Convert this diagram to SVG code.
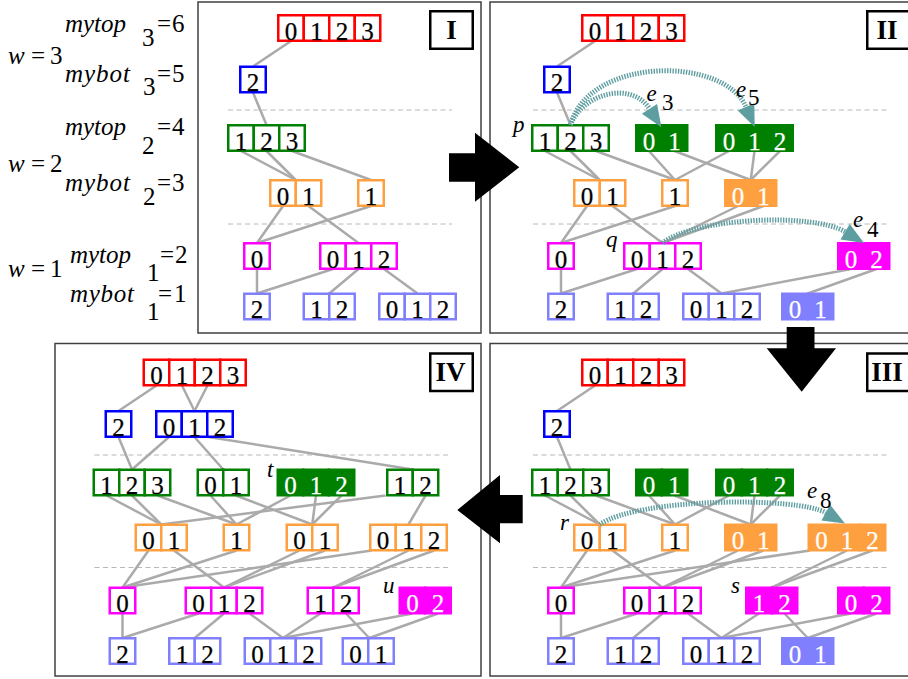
<svg xmlns="http://www.w3.org/2000/svg" width="908" height="679" viewBox="0 0 908 679">
<style>
text{font-family:"Liberation Serif","Times New Roman",serif}
.frame{fill:none;stroke:#404040;stroke-width:1.5}
.sep{stroke:#b8b8b8;stroke-width:1;stroke-dasharray:5 3.5}
.edges line{stroke:#aaaaaa;stroke-width:2.5}
.n rect{stroke-width:2.5;fill:#fff}
.n text{font-size:25px;text-anchor:middle;fill:#000;stroke:#000;stroke-width:0.25}
.red rect{stroke:#ff0000}
.blue rect{stroke:#0000ff}
.green rect{stroke:#008000}
.orange rect{stroke:#ffa040}
.mag rect{stroke:#ff00ff}
.lb rect{stroke:#8080ff}
.green.f rect{fill:#008000}
.orange.f rect{fill:#ffa040}
.mag.f rect{fill:#ff00ff}
.lb.f rect{fill:#8080ff}
.n.f text{fill:#fff;stroke:#fff}
.lab text{font-size:23px;fill:#000}
.lv text{font-size:25px;fill:#000}
.it{font-style:italic}
.pl rect{fill:#fff;stroke:#000;stroke-width:2.5}
.pl text{font-weight:bold;font-size:27px;text-anchor:middle}
.arc{fill:none;stroke:#5f9ea0;stroke-width:5;stroke-dasharray:1.4 1.3;marker-end:url(#ah)}
.big{fill:#000}
</style>
<defs>
<marker id="ah" markerUnits="userSpaceOnUse" viewBox="0 -9 22 18" refX="0" refY="0" markerWidth="22" markerHeight="18" orient="auto" overflow="visible"><path d="M0,-9 L22,0 L0,9 Z" fill="#5f9ea0"/></marker>
</defs>
<rect width="908" height="679" fill="#fff"/>

<!-- left labels -->
<g id="levels" class="lv">
<text class="it" x="65" y="32" textLength="61">mytop</text><text x="142" y="46">3</text><text x="157" y="32">=</text><text x="172" y="32">6</text>
<text class="it" x="8" y="64">w</text><text x="31" y="64">=</text><text x="50" y="64">3</text>
<text class="it" x="65" y="82" textLength="65">mybot</text><text x="143" y="95">3</text><text x="157" y="82">=</text><text x="172" y="82">5</text>
<text class="it" x="65" y="135" textLength="61">mytop</text><text x="142" y="154">2</text><text x="157" y="135">=</text><text x="172" y="135">4</text>
<text class="it" x="8" y="172">w</text><text x="31" y="172">=</text><text x="50" y="172">2</text>
<text class="it" x="65" y="191" textLength="65">mybot</text><text x="143" y="205">2</text><text x="157" y="191">=</text><text x="172" y="191">3</text>
<text class="it" x="70" y="263" textLength="61">mytop</text><text x="147" y="281">1</text><text x="160" y="263">=</text><text x="175" y="263">2</text>
<text class="it" x="8" y="277">w</text><text x="31" y="277">=</text><text x="50" y="277">1</text>
<text class="it" x="70" y="302" textLength="64">mybot</text><text x="147" y="320">1</text><text x="158" y="302">=</text><text x="174" y="302">1</text>
</g>

<!-- frames -->
<rect class="frame" x="198" y="2" width="283" height="331"/>
<rect class="frame" x="490" y="2" width="430" height="331"/>
<rect class="frame" x="490" y="343.5" width="430" height="332.5"/>
<rect class="frame" x="55" y="343.5" width="426" height="332.5"/>

<!-- PANEL I -->
<g id="panel-I">
<line class="sep" x1="228" y1="110" x2="452" y2="110"/><line class="sep" x1="228" y1="224" x2="452" y2="224"/>
<g id="I-edges" class="edges">
<line x1="291" y1="41" x2="253" y2="66.5"/><line x1="253" y1="92.5" x2="266.5" y2="125"/>
<line x1="241" y1="151" x2="295.75" y2="180"/><line x1="266.5" y1="151" x2="295.75" y2="180"/><line x1="292" y1="151" x2="371" y2="180"/>
<line x1="283" y1="206" x2="257" y2="243"/><line x1="308.5" y1="206" x2="358.5" y2="243"/><line x1="371" y1="206" x2="257" y2="243"/>
<line x1="257" y1="269" x2="257" y2="293.5"/><line x1="333" y1="269" x2="257" y2="293.5"/><line x1="358.5" y1="269" x2="329.25" y2="293.5"/><line x1="384" y1="269" x2="417.5" y2="293.5"/>
</g>
<g id="I-red" class="n red" transform="translate(277,14)"><rect x="1.25" y="1.25" width="25.5" height="25.5"/><rect x="26.75" y="1.25" width="25.5" height="25.5"/><rect x="52.25" y="1.25" width="25.5" height="25.5"/><rect x="77.75" y="1.25" width="25.5" height="25.5"/><text x="14" y="25.5">0</text><text x="39.5" y="25.5">1</text><text x="65" y="25.5">2</text><text x="90.5" y="25.5">3</text></g>
<g id="I-blue2" class="n blue" transform="translate(239,65.5)"><rect x="1.25" y="1.25" width="25.5" height="25.5"/><text x="14" y="25.5">2</text></g>
<g id="I-g123" class="n green" transform="translate(227,124)"><rect x="1.25" y="1.25" width="25.5" height="25.5"/><rect x="26.75" y="1.25" width="25.5" height="25.5"/><rect x="52.25" y="1.25" width="25.5" height="25.5"/><text x="14" y="25.5">1</text><text x="39.5" y="25.5">2</text><text x="65" y="25.5">3</text></g>
<g id="I-o01" class="n orange" transform="translate(269,179)"><rect x="1.25" y="1.25" width="25.5" height="25.5"/><rect x="26.75" y="1.25" width="25.5" height="25.5"/><text x="14" y="25.5">0</text><text x="39.5" y="25.5">1</text></g>
<g id="I-o1" class="n orange" transform="translate(357,179)"><rect x="1.25" y="1.25" width="25.5" height="25.5"/><text x="14" y="25.5">1</text></g>
<g id="I-m0" class="n mag" transform="translate(243,242)"><rect x="1.25" y="1.25" width="25.5" height="25.5"/><text x="14" y="25.5">0</text></g>
<g id="I-m012" class="n mag" transform="translate(319,242)"><rect x="1.25" y="1.25" width="25.5" height="25.5"/><rect x="26.75" y="1.25" width="25.5" height="25.5"/><rect x="52.25" y="1.25" width="25.5" height="25.5"/><text x="14" y="25.5">0</text><text x="39.5" y="25.5">1</text><text x="65" y="25.5">2</text></g>
<g id="I-lb2" class="n lb" transform="translate(243,292.5)"><rect x="1.25" y="1.25" width="25.5" height="25.5"/><text x="14" y="25.5">2</text></g>
<g id="I-lb12" class="n lb" transform="translate(302.5,292.5)"><rect x="1.25" y="1.25" width="25.5" height="25.5"/><rect x="26.75" y="1.25" width="25.5" height="25.5"/><text x="14" y="25.5">1</text><text x="39.5" y="25.5">2</text></g>
<g id="I-lb012" class="n lb" transform="translate(378,292.5)"><rect x="1.25" y="1.25" width="25.5" height="25.5"/><rect x="26.75" y="1.25" width="25.5" height="25.5"/><rect x="52.25" y="1.25" width="25.5" height="25.5"/><text x="14" y="25.5">0</text><text x="39.5" y="25.5">1</text><text x="65" y="25.5">2</text></g>
</g>

<!-- PANEL II -->
<g id="panel-II" transform="translate(304,0)">
<line class="sep" x1="229" y1="110" x2="585" y2="110"/><line class="sep" x1="229" y1="224" x2="585" y2="224"/>
<g id="II-edges" class="edges">
<line x1="291" y1="41" x2="253" y2="66.5"/><line x1="253" y1="92.5" x2="266.5" y2="125"/>
<line x1="241" y1="151" x2="295.75" y2="180"/><line x1="266.5" y1="151" x2="295.75" y2="180"/><line x1="292" y1="151" x2="371" y2="180"/>
<line x1="345" y1="151" x2="371" y2="180"/><line x1="370.5" y1="151" x2="446.75" y2="180"/><line x1="425" y1="151" x2="371" y2="180"/><line x1="450.5" y1="151" x2="446.75" y2="180"/><line x1="476" y1="151" x2="446.75" y2="180"/>
<line x1="283" y1="206" x2="257" y2="243"/><line x1="308.5" y1="206" x2="358.5" y2="243"/><line x1="371" y1="206" x2="257" y2="243"/>
<line x1="434" y1="206" x2="358.5" y2="243"/><line x1="459.5" y1="206" x2="358.5" y2="243"/>
<line x1="257" y1="269" x2="257" y2="293.5"/><line x1="333" y1="269" x2="257" y2="293.5"/><line x1="358.5" y1="269" x2="329.25" y2="293.5"/><line x1="384" y1="269" x2="417.5" y2="293.5"/>
<line x1="547" y1="269" x2="417.5" y2="293.5"/><line x1="572.5" y1="269" x2="503.75" y2="293.5"/>
</g>
<g id="II-red" class="n red" transform="translate(277,14)"><rect x="1.25" y="1.25" width="25.5" height="25.5"/><rect x="26.75" y="1.25" width="25.5" height="25.5"/><rect x="52.25" y="1.25" width="25.5" height="25.5"/><rect x="77.75" y="1.25" width="25.5" height="25.5"/><text x="14" y="25.5">0</text><text x="39.5" y="25.5">1</text><text x="65" y="25.5">2</text><text x="90.5" y="25.5">3</text></g>
<g id="II-blue2" class="n blue" transform="translate(239,65.5)"><rect x="1.25" y="1.25" width="25.5" height="25.5"/><text x="14" y="25.5">2</text></g>
<g id="II-g123" class="n green" transform="translate(227,124)"><rect x="1.25" y="1.25" width="25.5" height="25.5"/><rect x="26.75" y="1.25" width="25.5" height="25.5"/><rect x="52.25" y="1.25" width="25.5" height="25.5"/><text x="14" y="25.5">1</text><text x="39.5" y="25.5">2</text><text x="65" y="25.5">3</text></g>
<g id="II-g01" class="n green f" transform="translate(331,124)"><rect x="1.25" y="1.25" width="25.5" height="25.5"/><rect x="26.75" y="1.25" width="25.5" height="25.5"/><text x="14" y="25.5">0</text><text x="39.5" y="25.5">1</text></g>
<g id="II-g012" class="n green f" transform="translate(411,124)"><rect x="1.25" y="1.25" width="25.5" height="25.5"/><rect x="26.75" y="1.25" width="25.5" height="25.5"/><rect x="52.25" y="1.25" width="25.5" height="25.5"/><text x="14" y="25.5">0</text><text x="39.5" y="25.5">1</text><text x="65" y="25.5">2</text></g>
<g id="II-o01" class="n orange" transform="translate(269,179)"><rect x="1.25" y="1.25" width="25.5" height="25.5"/><rect x="26.75" y="1.25" width="25.5" height="25.5"/><text x="14" y="25.5">0</text><text x="39.5" y="25.5">1</text></g>
<g id="II-o1" class="n orange" transform="translate(357,179)"><rect x="1.25" y="1.25" width="25.5" height="25.5"/><text x="14" y="25.5">1</text></g>
<g id="II-o01b" class="n orange f" transform="translate(420,179)"><rect x="1.25" y="1.25" width="25.5" height="25.5"/><rect x="26.75" y="1.25" width="25.5" height="25.5"/><text x="14" y="25.5">0</text><text x="39.5" y="25.5">1</text></g>
<g id="II-m0" class="n mag" transform="translate(243,242)"><rect x="1.25" y="1.25" width="25.5" height="25.5"/><text x="14" y="25.5">0</text></g>
<g id="II-m012" class="n mag" transform="translate(319,242)"><rect x="1.25" y="1.25" width="25.5" height="25.5"/><rect x="26.75" y="1.25" width="25.5" height="25.5"/><rect x="52.25" y="1.25" width="25.5" height="25.5"/><text x="14" y="25.5">0</text><text x="39.5" y="25.5">1</text><text x="65" y="25.5">2</text></g>
<g id="II-m02" class="n mag f" transform="translate(533,242)"><rect x="1.25" y="1.25" width="25.5" height="25.5"/><rect x="26.75" y="1.25" width="25.5" height="25.5"/><text x="14" y="25.5">0</text><text x="39.5" y="25.5">2</text></g>
<g id="II-lb2" class="n lb" transform="translate(243,292.5)"><rect x="1.25" y="1.25" width="25.5" height="25.5"/><text x="14" y="25.5">2</text></g>
<g id="II-lb12" class="n lb" transform="translate(302.5,292.5)"><rect x="1.25" y="1.25" width="25.5" height="25.5"/><rect x="26.75" y="1.25" width="25.5" height="25.5"/><text x="14" y="25.5">1</text><text x="39.5" y="25.5">2</text></g>
<g id="II-lb012" class="n lb" transform="translate(378,292.5)"><rect x="1.25" y="1.25" width="25.5" height="25.5"/><rect x="26.75" y="1.25" width="25.5" height="25.5"/><rect x="52.25" y="1.25" width="25.5" height="25.5"/><text x="14" y="25.5">0</text><text x="39.5" y="25.5">1</text><text x="65" y="25.5">2</text></g>
<g id="II-lb01" class="n lb f" transform="translate(477,292.5)"><rect x="1.25" y="1.25" width="25.5" height="25.5"/><rect x="26.75" y="1.25" width="25.5" height="25.5"/><text x="14" y="25.5">0</text><text x="39.5" y="25.5">1</text></g>
<g id="II-arcs">
<path class="arc" d="M266.5,125 C278,94 327,80 345.5,108.8"/>
<path class="arc" d="M266.5,125 C285,56 420,56 442,106.9"/>
<path class="arc" d="M358.5,243 C390,218 508,212 541.1,231.8"/>
</g>
<g class="lab">
<text class="it" x="209" y="131.5">p</text>
<text class="it" x="302" y="247">q</text>
<text class="it" x="342.5" y="101">e</text><text x="358" y="110">3</text>
<text class="it" x="432" y="97">e</text><text x="444" y="105">5</text>
<text class="it" x="549" y="227">e</text><text x="563" y="237">4</text>
</g>
</g>

<!-- PANEL III -->
<g id="panel-III" transform="translate(304,344.5)">
<line class="sep" x1="229" y1="110.5" x2="585" y2="110.5"/><line class="sep" x1="229" y1="223" x2="585" y2="223"/>
<g id="III-edges" class="edges">
<line x1="291" y1="41" x2="253" y2="66.5"/><line x1="253" y1="92.5" x2="266.5" y2="125"/>
<line x1="241" y1="151" x2="295.75" y2="180"/><line x1="266.5" y1="151" x2="295.75" y2="180"/><line x1="292" y1="151" x2="371" y2="180"/>
<line x1="345" y1="151" x2="371" y2="180"/><line x1="370.5" y1="151" x2="446.75" y2="180"/><line x1="425" y1="151" x2="371" y2="180"/><line x1="450.5" y1="151" x2="446.75" y2="180"/><line x1="476" y1="151" x2="446.75" y2="180"/>
<line x1="283" y1="206" x2="257" y2="243"/><line x1="308.5" y1="206" x2="358.5" y2="243"/><line x1="371" y1="206" x2="257" y2="243"/>
<line x1="434" y1="206" x2="358.5" y2="243"/><line x1="459.5" y1="206" x2="358.5" y2="243"/>
<line x1="506" y1="206" x2="257" y2="243"/><line x1="543" y1="206" x2="467.75" y2="243"/><line x1="568.5" y1="206" x2="467.75" y2="243"/>
<line x1="257" y1="269" x2="257" y2="293.5"/><line x1="333" y1="269" x2="257" y2="293.5"/><line x1="358.5" y1="269" x2="329.25" y2="293.5"/><line x1="384" y1="269" x2="417.5" y2="293.5"/>
<line x1="455" y1="269" x2="417.5" y2="293.5"/><line x1="480.5" y1="269" x2="503.75" y2="293.5"/>
<line x1="547" y1="269" x2="417.5" y2="293.5"/><line x1="572.5" y1="269" x2="503.75" y2="293.5"/>
</g>
<g id="III-red" class="n red" transform="translate(277,14)"><rect x="1.25" y="1.25" width="25.5" height="25.5"/><rect x="26.75" y="1.25" width="25.5" height="25.5"/><rect x="52.25" y="1.25" width="25.5" height="25.5"/><rect x="77.75" y="1.25" width="25.5" height="25.5"/><text x="14" y="25.5">0</text><text x="39.5" y="25.5">1</text><text x="65" y="25.5">2</text><text x="90.5" y="25.5">3</text></g>
<g id="III-blue2" class="n blue" transform="translate(239,65.5)"><rect x="1.25" y="1.25" width="25.5" height="25.5"/><text x="14" y="25.5">2</text></g>
<g id="III-g123" class="n green" transform="translate(227,124)"><rect x="1.25" y="1.25" width="25.5" height="25.5"/><rect x="26.75" y="1.25" width="25.5" height="25.5"/><rect x="52.25" y="1.25" width="25.5" height="25.5"/><text x="14" y="25.5">1</text><text x="39.5" y="25.5">2</text><text x="65" y="25.5">3</text></g>
<g id="III-g01" class="n green f" transform="translate(331,124)"><rect x="1.25" y="1.25" width="25.5" height="25.5"/><rect x="26.75" y="1.25" width="25.5" height="25.5"/><text x="14" y="25.5">0</text><text x="39.5" y="25.5">1</text></g>
<g id="III-g012" class="n green f" transform="translate(411,124)"><rect x="1.25" y="1.25" width="25.5" height="25.5"/><rect x="26.75" y="1.25" width="25.5" height="25.5"/><rect x="52.25" y="1.25" width="25.5" height="25.5"/><text x="14" y="25.5">0</text><text x="39.5" y="25.5">1</text><text x="65" y="25.5">2</text></g>
<g id="III-o01" class="n orange" transform="translate(269,179)"><rect x="1.25" y="1.25" width="25.5" height="25.5"/><rect x="26.75" y="1.25" width="25.5" height="25.5"/><text x="14" y="25.5">0</text><text x="39.5" y="25.5">1</text></g>
<g id="III-o1" class="n orange" transform="translate(357,179)"><rect x="1.25" y="1.25" width="25.5" height="25.5"/><text x="14" y="25.5">1</text></g>
<g id="III-o01b" class="n orange f" transform="translate(420,179)"><rect x="1.25" y="1.25" width="25.5" height="25.5"/><rect x="26.75" y="1.25" width="25.5" height="25.5"/><text x="14" y="25.5">0</text><text x="39.5" y="25.5">1</text></g>
<g id="III-o012" class="n orange f" transform="translate(503.5,179)"><rect x="1.25" y="1.25" width="25.5" height="25.5"/><rect x="26.75" y="1.25" width="25.5" height="25.5"/><rect x="52.25" y="1.25" width="25.5" height="25.5"/><text x="14" y="25.5">0</text><text x="39.5" y="25.5">1</text><text x="65" y="25.5">2</text></g>
<g id="III-m0" class="n mag" transform="translate(243,242)"><rect x="1.25" y="1.25" width="25.5" height="25.5"/><text x="14" y="25.5">0</text></g>
<g id="III-m012" class="n mag" transform="translate(319,242)"><rect x="1.25" y="1.25" width="25.5" height="25.5"/><rect x="26.75" y="1.25" width="25.5" height="25.5"/><rect x="52.25" y="1.25" width="25.5" height="25.5"/><text x="14" y="25.5">0</text><text x="39.5" y="25.5">1</text><text x="65" y="25.5">2</text></g>
<g id="III-m12" class="n mag f" transform="translate(441,242)"><rect x="1.25" y="1.25" width="25.5" height="25.5"/><rect x="26.75" y="1.25" width="25.5" height="25.5"/><text x="14" y="25.5">1</text><text x="39.5" y="25.5">2</text></g>
<g id="III-m02" class="n mag f" transform="translate(533,242)"><rect x="1.25" y="1.25" width="25.5" height="25.5"/><rect x="26.75" y="1.25" width="25.5" height="25.5"/><text x="14" y="25.5">0</text><text x="39.5" y="25.5">2</text></g>
<g id="III-lb2" class="n lb" transform="translate(243,292.5)"><rect x="1.25" y="1.25" width="25.5" height="25.5"/><text x="14" y="25.5">2</text></g>
<g id="III-lb12" class="n lb" transform="translate(302.5,292.5)"><rect x="1.25" y="1.25" width="25.5" height="25.5"/><rect x="26.75" y="1.25" width="25.5" height="25.5"/><text x="14" y="25.5">1</text><text x="39.5" y="25.5">2</text></g>
<g id="III-lb012" class="n lb" transform="translate(378,292.5)"><rect x="1.25" y="1.25" width="25.5" height="25.5"/><rect x="26.75" y="1.25" width="25.5" height="25.5"/><rect x="52.25" y="1.25" width="25.5" height="25.5"/><text x="14" y="25.5">0</text><text x="39.5" y="25.5">1</text><text x="65" y="25.5">2</text></g>
<g id="III-lb01" class="n lb f" transform="translate(477,292.5)"><rect x="1.25" y="1.25" width="25.5" height="25.5"/><rect x="26.75" y="1.25" width="25.5" height="25.5"/><text x="14" y="25.5">0</text><text x="39.5" y="25.5">1</text></g>
<g id="III-arcs">
<path class="arc" d="M295.75,180 C335,153 493,152 521.8,168.2"/>
</g>
<g class="lab">
<text class="it" x="256" y="185.5">r</text>
<text class="it" x="427" y="248.5">s</text>
<text class="it" x="503" y="153.5">e</text><text x="516" y="163.5">8</text>
</g>
</g>

<!-- PANEL IV -->
<g id="panel-IV" transform="translate(-134.5,344.5)">
<line class="sep" x1="229" y1="110.5" x2="585.5" y2="110.5"/><line class="sep" x1="229" y1="223" x2="585.5" y2="223"/>
<g id="IV-edges" class="edges">
<line x1="291" y1="41" x2="253" y2="66.5"/><line x1="316.5" y1="41" x2="329" y2="66.5"/><line x1="342" y1="41" x2="329" y2="66.5"/>
<line x1="253" y1="92.5" x2="266.5" y2="125"/><line x1="303.5" y1="92.5" x2="266.5" y2="125"/><line x1="329" y1="92.5" x2="357.75" y2="125"/><line x1="343" y1="92.5" x2="547.25" y2="125"/>
<line x1="241" y1="151" x2="295.75" y2="180"/><line x1="266.5" y1="151" x2="295.75" y2="180"/><line x1="292" y1="151" x2="371" y2="180"/>
<line x1="345" y1="151" x2="371" y2="180"/><line x1="370.5" y1="151" x2="446.75" y2="180"/><line x1="425" y1="151" x2="371" y2="180"/><line x1="450.5" y1="151" x2="446.75" y2="180"/><line x1="476" y1="151" x2="446.75" y2="180"/>
<line x1="520" y1="151" x2="295.75" y2="180"/><line x1="560" y1="151" x2="543" y2="180"/>
<line x1="283" y1="206" x2="257" y2="243"/><line x1="308.5" y1="206" x2="358.5" y2="243"/><line x1="371" y1="206" x2="257" y2="243"/>
<line x1="434" y1="206" x2="358.5" y2="243"/><line x1="459.5" y1="206" x2="358.5" y2="243"/>
<line x1="506" y1="206" x2="257" y2="243"/><line x1="543" y1="206" x2="467.75" y2="243"/><line x1="568.5" y1="206" x2="467.75" y2="243"/>
<line x1="257" y1="269" x2="257" y2="293.5"/><line x1="333" y1="269" x2="257" y2="293.5"/><line x1="358.5" y1="269" x2="329.25" y2="293.5"/><line x1="384" y1="269" x2="417.5" y2="293.5"/>
<line x1="455" y1="269" x2="417.5" y2="293.5"/><line x1="480.5" y1="269" x2="503.75" y2="293.5"/>
<line x1="547" y1="269" x2="417.5" y2="293.5"/><line x1="572.5" y1="269" x2="503.75" y2="293.5"/>
</g>
<g id="IV-red" class="n red" transform="translate(277,14)"><rect x="1.25" y="1.25" width="25.5" height="25.5"/><rect x="26.75" y="1.25" width="25.5" height="25.5"/><rect x="52.25" y="1.25" width="25.5" height="25.5"/><rect x="77.75" y="1.25" width="25.5" height="25.5"/><text x="14" y="25.5">0</text><text x="39.5" y="25.5">1</text><text x="65" y="25.5">2</text><text x="90.5" y="25.5">3</text></g>
<g id="IV-blue2" class="n blue" transform="translate(239,65.5)"><rect x="1.25" y="1.25" width="25.5" height="25.5"/><text x="14" y="25.5">2</text></g>
<g id="IV-blue012" class="n blue" transform="translate(289.5,65.5)"><rect x="1.25" y="1.25" width="25.5" height="25.5"/><rect x="26.75" y="1.25" width="25.5" height="25.5"/><rect x="52.25" y="1.25" width="25.5" height="25.5"/><text x="14" y="25.5">0</text><text x="39.5" y="25.5">1</text><text x="65" y="25.5">2</text></g>
<g id="IV-g123" class="n green" transform="translate(227,124)"><rect x="1.25" y="1.25" width="25.5" height="25.5"/><rect x="26.75" y="1.25" width="25.5" height="25.5"/><rect x="52.25" y="1.25" width="25.5" height="25.5"/><text x="14" y="25.5">1</text><text x="39.5" y="25.5">2</text><text x="65" y="25.5">3</text></g>
<g id="IV-g01" class="n green" transform="translate(331,124)"><rect x="1.25" y="1.25" width="25.5" height="25.5"/><rect x="26.75" y="1.25" width="25.5" height="25.5"/><text x="14" y="25.5">0</text><text x="39.5" y="25.5">1</text></g>
<g id="IV-g012" class="n green f" transform="translate(411,124)"><rect x="1.25" y="1.25" width="25.5" height="25.5"/><rect x="26.75" y="1.25" width="25.5" height="25.5"/><rect x="52.25" y="1.25" width="25.5" height="25.5"/><text x="14" y="25.5">0</text><text x="39.5" y="25.5">1</text><text x="65" y="25.5">2</text></g>
<g id="IV-g12" class="n green" transform="translate(520.5,124)"><rect x="1.25" y="1.25" width="25.5" height="25.5"/><rect x="26.75" y="1.25" width="25.5" height="25.5"/><text x="14" y="25.5">1</text><text x="39.5" y="25.5">2</text></g>
<g id="IV-o01" class="n orange" transform="translate(269,179)"><rect x="1.25" y="1.25" width="25.5" height="25.5"/><rect x="26.75" y="1.25" width="25.5" height="25.5"/><text x="14" y="25.5">0</text><text x="39.5" y="25.5">1</text></g>
<g id="IV-o1" class="n orange" transform="translate(357,179)"><rect x="1.25" y="1.25" width="25.5" height="25.5"/><text x="14" y="25.5">1</text></g>
<g id="IV-o01b" class="n orange" transform="translate(420,179)"><rect x="1.25" y="1.25" width="25.5" height="25.5"/><rect x="26.75" y="1.25" width="25.5" height="25.5"/><text x="14" y="25.5">0</text><text x="39.5" y="25.5">1</text></g>
<g id="IV-o012" class="n orange" transform="translate(503.5,179)"><rect x="1.25" y="1.25" width="25.5" height="25.5"/><rect x="26.75" y="1.25" width="25.5" height="25.5"/><rect x="52.25" y="1.25" width="25.5" height="25.5"/><text x="14" y="25.5">0</text><text x="39.5" y="25.5">1</text><text x="65" y="25.5">2</text></g>
<g id="IV-m0" class="n mag" transform="translate(243,242)"><rect x="1.25" y="1.25" width="25.5" height="25.5"/><text x="14" y="25.5">0</text></g>
<g id="IV-m012" class="n mag" transform="translate(319,242)"><rect x="1.25" y="1.25" width="25.5" height="25.5"/><rect x="26.75" y="1.25" width="25.5" height="25.5"/><rect x="52.25" y="1.25" width="25.5" height="25.5"/><text x="14" y="25.5">0</text><text x="39.5" y="25.5">1</text><text x="65" y="25.5">2</text></g>
<g id="IV-m12" class="n mag" transform="translate(441,242)"><rect x="1.25" y="1.25" width="25.5" height="25.5"/><rect x="26.75" y="1.25" width="25.5" height="25.5"/><text x="14" y="25.5">1</text><text x="39.5" y="25.5">2</text></g>
<g id="IV-m02" class="n mag f" transform="translate(533,242)"><rect x="1.25" y="1.25" width="25.5" height="25.5"/><rect x="26.75" y="1.25" width="25.5" height="25.5"/><text x="14" y="25.5">0</text><text x="39.5" y="25.5">2</text></g>
<g id="IV-lb2" class="n lb" transform="translate(243,292.5)"><rect x="1.25" y="1.25" width="25.5" height="25.5"/><text x="14" y="25.5">2</text></g>
<g id="IV-lb12" class="n lb" transform="translate(302.5,292.5)"><rect x="1.25" y="1.25" width="25.5" height="25.5"/><rect x="26.75" y="1.25" width="25.5" height="25.5"/><text x="14" y="25.5">1</text><text x="39.5" y="25.5">2</text></g>
<g id="IV-lb012" class="n lb" transform="translate(378,292.5)"><rect x="1.25" y="1.25" width="25.5" height="25.5"/><rect x="26.75" y="1.25" width="25.5" height="25.5"/><rect x="52.25" y="1.25" width="25.5" height="25.5"/><text x="14" y="25.5">0</text><text x="39.5" y="25.5">1</text><text x="65" y="25.5">2</text></g>
<g id="IV-lb01" class="n lb" transform="translate(476,292.5)"><rect x="1.25" y="1.25" width="25.5" height="25.5"/><rect x="26.75" y="1.25" width="25.5" height="25.5"/><text x="14" y="25.5">0</text><text x="39.5" y="25.5">1</text></g>
<g class="lab">
<text class="it" x="401.5" y="132">t</text>
<text class="it" x="517.5" y="248.5">u</text>
</g>
</g>

<!-- panel labels -->
<g id="label-I" class="pl"><rect x="430.25" y="11.25" width="42.5" height="37.5"/><text x="451.5" y="38.5">I</text></g>
<g id="label-II" class="pl"><rect x="867.25" y="11.25" width="42.5" height="37.5"/><text x="887" y="38.5">II</text></g>
<g id="label-III" class="pl"><rect x="867.25" y="353.5" width="42.5" height="37.5"/><text x="887" y="380.7">III</text></g>
<g id="label-IV" class="pl"><rect x="430.25" y="353.5" width="42.5" height="37.5"/><text x="450.5" y="380.7">IV</text></g>

<!-- big step arrows -->
<g id="step-arrows">
<polygon class="big" points="449,153.3 475,153.3 475,132.7 519.3,167.3 475,201.7 475,181.7 449,181.7"/>
<polygon class="big" points="786.7,327 814.5,327 814.5,348.3 836,348.3 801.7,391.7 766.7,348.3 786.7,348.3"/>
<polygon class="big" points="522.7,495 500,495 500,475 457.3,510 500,543.3 500,523.3 522.7,523.3"/>
</g>
</svg>
